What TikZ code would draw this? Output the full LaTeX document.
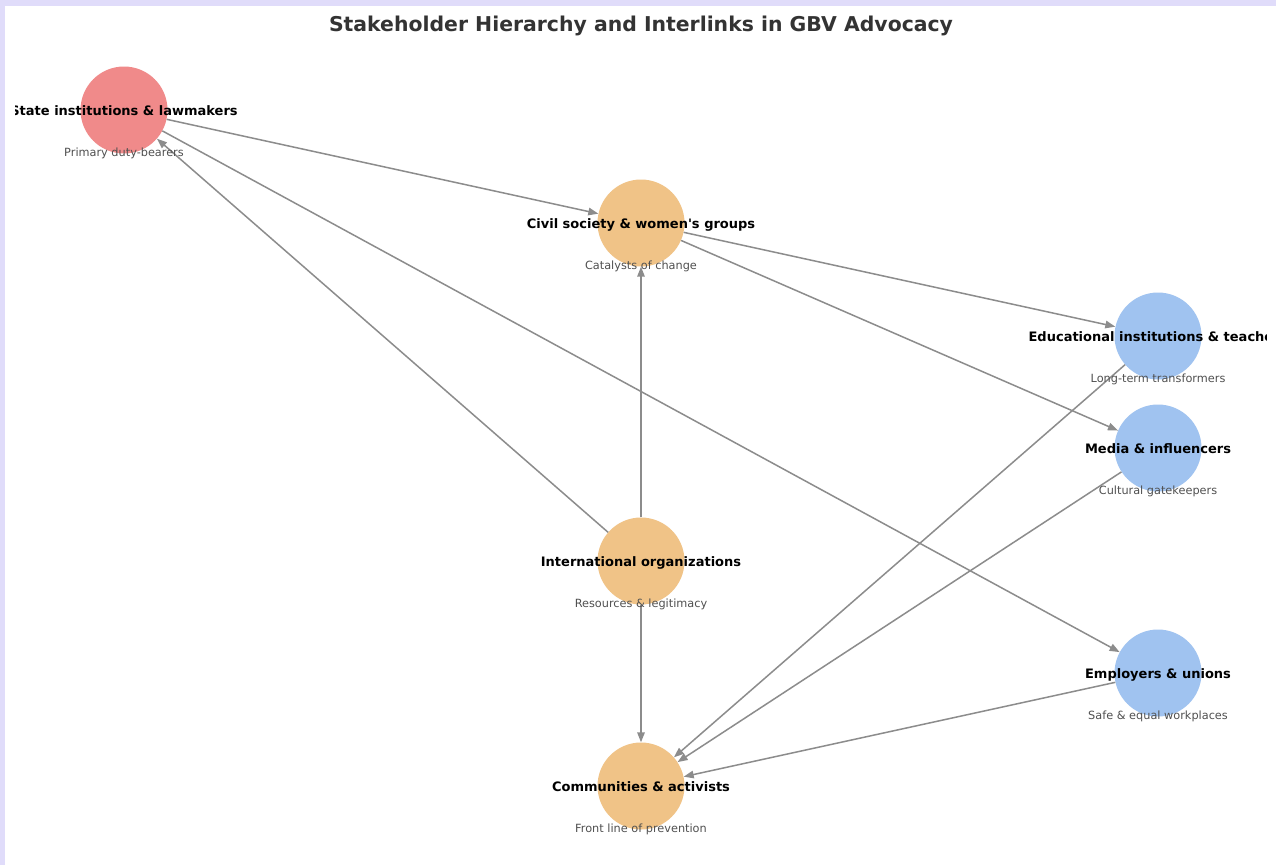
\documentclass[tikz,border=0pt]{standalone}
\usepackage{fontspec}
\setmainfont{DejaVu Sans}[Ligatures=TeXOff]
\usetikzlibrary{arrows.meta}
\definecolor{lav}{RGB}{224,220,250}
\definecolor{redn}{RGB}{240,138,138}
\definecolor{orn}{RGB}{240,195,135}
\definecolor{blun}{RGB}{160,195,240}
\definecolor{edgec}{RGB}{140,140,140}
\definecolor{subc}{RGB}{80,80,80}
\definecolor{titc}{RGB}{51,51,51}
\tikzset{
  stk/.style={circle, minimum size=87pt, inner sep=0pt, draw=none},
  lbl/.style={font=\bfseries\fontsize{13}{15}\selectfont, text=black, inner sep=0pt, anchor=base},
  sublbl/.style={font=\fontsize{11.3}{13}\selectfont, text=subc, inner sep=0pt, anchor=base},
  link/.style={draw=edgec, line width=1.5pt, -{Triangle[length=10pt,width=7.5pt]}},
}
\begin{document}
\begin{tikzpicture}[x=1pt,y=-1pt]
\useasboundingbox (0,0) rectangle (1276,865);
\fill[lav] (0,0) rectangle (1276,865);
\fill[white] (5,6) rectangle (1276,865);
\node[font=\bfseries\fontsize{20.4}{24}\selectfont, text=titc, anchor=base, inner sep=0pt] (title) at (641,31) {Stakeholder Hierarchy and Interlinks in GBV Advocacy};
% nodes
\node[stk, fill=redn] (state) at (124,110) {};
\node[stk, fill=orn] (civil) at (641,223) {};
\node[stk, fill=blun] (edu) at (1158,336) {};
\node[stk, fill=blun] (media) at (1158,448) {};
\node[stk, fill=orn] (intl) at (641,561) {};
\node[stk, fill=blun] (emp) at (1158,673) {};
\node[stk, fill=orn] (comm) at (641,786) {};
% edges
\draw[link] (state) -- (civil);
\draw[link] (state) -- (emp);
\draw[link] (intl) -- (state);
\draw[link] (civil) -- (edu);
\draw[link] (civil) -- (media);
\draw[link] (intl) -- (civil);
\draw[link] (intl) -- (comm);
\draw[link] (edu) -- (comm);
\draw[link] (media) -- (comm);
\draw[link] (emp) -- (comm);
% labels (clipped at the plot area, as in the reference)
\begin{scope}
\clip (15,6) rectangle (1266,865);
\node[lbl] (stateL) at (124,115) {State institutions \& lawmakers};
\node[sublbl] (stateS) at (124,156) {Primary duty-bearers};
\node[lbl] (civilL) at (641,228) {Civil society \& women's groups};
\node[sublbl] (civilS) at (641,269) {Catalysts of change};
\node[lbl] (eduL) at (1158,341) {Educational institutions \& teachers};
\node[sublbl] (eduS) at (1158,382) {Long-term transformers};
\node[lbl] (mediaL) at (1158,453) {Media \& influencers};
\node[sublbl] (mediaS) at (1158,494) {Cultural gatekeepers};
\node[lbl] (intlL) at (641,566) {International organizations};
\node[sublbl] (intlS) at (641,607) {Resources \& legitimacy};
\node[lbl] (empL) at (1158,678) {Employers \& unions};
\node[sublbl] (empS) at (1158,719) {Safe \& equal workplaces};
\node[lbl] (commL) at (641,791) {Communities \& activists};
\node[sublbl] (commS) at (641,832) {Front line of prevention};
\end{scope}
\end{tikzpicture}
\end{document}
